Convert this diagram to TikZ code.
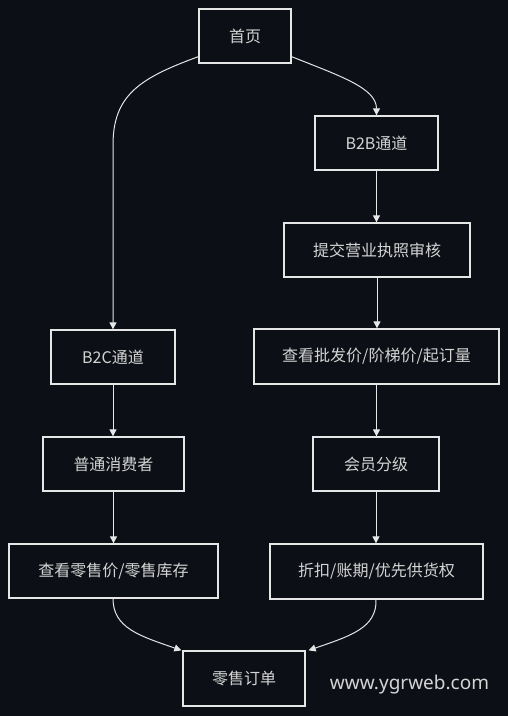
\documentclass[tikz,border=0pt]{standalone}
\usepackage{fontspec}
\setmainfont{Noto Sans CJK SC}
\newfontfamily\wmfont{Noto Sans}
\usetikzlibrary{arrows.meta}
\definecolor{bg}{HTML}{0C0F15}
\definecolor{fg}{HTML}{E6E6E6}
\definecolor{txt}{HTML}{D4D4D4}
\tikzset{
  box/.style={draw=fg, line width=1.3pt, fill=bg, inner sep=0pt, text=txt,
    font=\fontsize{16pt}{19pt}\selectfont},
  conn/.style={draw=fg, line width=1pt, -{Triangle[width=7pt,length=7pt]}},
}
\begin{document}
\begin{tikzpicture}[x=1pt,y=-1pt]
\fill[bg] (0,0) rectangle (508,716);
\useasboundingbox (0,0) rectangle (508,716);
\node[box, minimum width=92pt, minimum height=54pt] (home) at (245,36) {首页};
\node[box, minimum width=123pt, minimum height=54pt] (b2b) at (376.5,143) {B2B通道};
\node[box, minimum width=186pt, minimum height=54pt] (audit) at (377,250) {提交营业执照审核};
\node[box, minimum width=245pt, minimum height=55pt] (price) at (376.5,356.5) {查看批发价/阶梯价/起订量};
\node[box, minimum width=126pt, minimum height=54pt] (member) at (376,464) {会员分级};
\node[box, minimum width=213pt, minimum height=55pt] (disc) at (376.5,571.5) {折扣/账期/优先供货权};
\node[box, minimum width=124pt, minimum height=54pt] (b2c) at (113,357) {B2C通道};
\node[box, minimum width=141pt, minimum height=54pt] (cons) at (113.5,464) {普通消费者};
\node[box, minimum width=209pt, minimum height=54pt] (retail) at (113.5,571) {查看零售价/零售库存};
\node[box, minimum width=122pt, minimum height=55pt] (order) at (244,678.5) {零售订单};
\node[text=txt, font=\wmfont\fontsize{19pt}{22pt}\selectfont, inner sep=0pt] (wm) at (409.5,685) {www.ygrweb.com};

\draw[conn] ([yshift=7pt]home.south west) .. controls (140,78) and (113,95) .. (113,145) -- (b2c.north);
\draw[conn] ([yshift=7pt]home.south east) .. controls (340,76) and (376.5,88) .. (b2b.north);
\draw[conn] (b2b.south) -- (audit.north -| b2b.south);
\draw[conn] (audit.south) -- (price.north -| audit.south);
\draw[conn] (price.south) -- (member.north -| price.south);
\draw[conn] (member.south) -- (disc.north -| member.south);
\draw[conn] (b2c.south) -- (cons.north -| b2c.south);
\draw[conn] (cons.south) -- (retail.north -| cons.south);
\draw[conn] (retail.south -| b2c.south) .. controls (113,628) and (140,636) .. ([xshift=-1pt]order.north west);
\draw[conn] (disc.south -| member.south) .. controls (377,628) and (350,636) .. ([xshift=3pt]order.north east);
\end{tikzpicture}
\end{document}
